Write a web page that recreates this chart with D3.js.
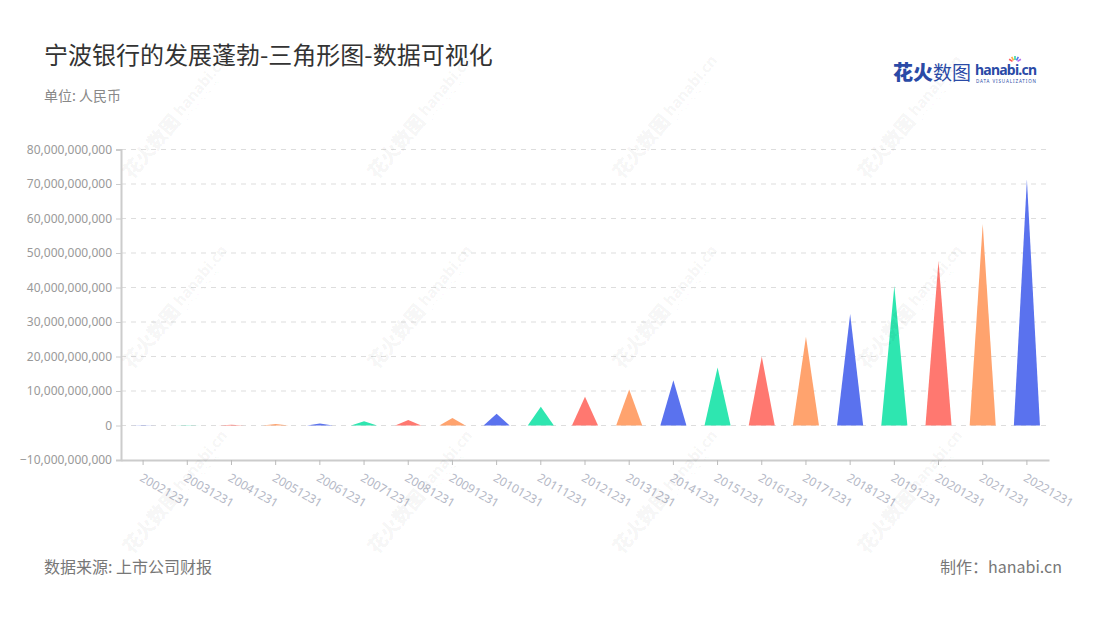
<!DOCTYPE html>
<html><head><meta charset="utf-8">
<script src="https://cdn.jsdelivr.net/npm/d3@7/dist/d3.min.js"></script>
<style>
html,body{margin:0;padding:0;background:#fff;}
svg{display:block;font-family:"Noto Sans CJK SC","Noto Sans",sans-serif;}
</style></head>
<body>
<svg id="chart" width="1100" height="620"></svg>
<script>
const categories = ["20021231","20031231","20041231","20051231","20061231","20071231","20081231","20091231","20101231","20111231","20121231","20131231","20141231","20151231","20161231","20171231","20181231","20191231","20201231","20211231","20221231"];
const values = [0.05e9,0.1e9,0.2e9,0.4e9,0.6e9,1.2e9,1.6e9,2.2e9,3.4e9,5.4e9,8.3e9,10.4e9,13.1e9,16.8e9,20.0e9,25.7e9,32.3e9,40.4e9,47.7e9,58.4e9,71.3e9];
const yTicks = [-10e9,0,10e9,20e9,30e9,40e9,50e9,60e9,70e9,80e9];
const palette = ["#5a72ee","#2ee6b0","#ff7870","#ffa36e"];

(function(){
const svg = d3.select("#chart");
const pLeft = 121, pRight = 1049, pTop = 149.5, pBottom = 460;

const x = d3.scaleBand().domain(categories).range([pLeft, pRight]).padding(0);
const y = d3.scaleLinear().domain([-10e9, 80e9]).range([pBottom, pTop]);

// titles
svg.append("text").attr("x",44).attr("y",64).attr("font-size",24).attr("fill","#333").text("宁波银行的发展蓬勃-三角形图-数据可视化");
svg.append("text").attr("x",44).attr("y",101).attr("font-size",14).attr("fill","#888").text("单位: 人民币");

// grid
svg.append("g").selectAll("line").data(yTicks.filter(d=>d>-10e9)).join("line")
  .attr("x1",pLeft).attr("x2",pRight).attr("y1",d=>y(d)).attr("y2",d=>y(d))
  .attr("stroke","#ddd").attr("stroke-dasharray","5,5").attr("stroke-width",1);

// y axis
const yAxis = svg.append("g").attr("transform",`translate(${pLeft},0)`)
  .call(d3.axisLeft(y).tickValues(yTicks).tickSize(5).tickPadding(4).tickFormat(d3.format(",")));
yAxis.select(".domain").attr("stroke","#ccc").attr("stroke-width",2);
yAxis.selectAll(".tick line").attr("stroke","#ccc");
yAxis.selectAll("text").attr("fill","#999").attr("font-size",12).attr("font-family","'Noto Sans',sans-serif");

// x axis
const xAxis = svg.append("g").attr("transform",`translate(0,${pBottom})`)
  .call(d3.axisBottom(x).tickSize(5).tickSizeOuter(0).tickPadding(8));
xAxis.select(".domain").attr("stroke","#ccc").attr("stroke-width",2);
xAxis.selectAll(".tick line").attr("stroke","#bbb");
xAxis.selectAll(".tick text").attr("fill","#b4b8c6").attr("font-size",12)
  .attr("font-family","'Noto Sans',sans-serif")
  .attr("text-anchor","start").attr("dy","0.7em")
  .attr("transform","translate(0,13) rotate(30)").attr("y",0).attr("x",0);

// triangles
const w = x.bandwidth()*0.59;
svg.append("g").selectAll("path").data(categories).join("path")
  .attr("d",(c,i)=>{
    const cx = x(c)+x.bandwidth()/2, y0=y(0), y1=y(values[i]);
    return `M${cx-w/2},${y0}L${cx},${y1}L${cx+w/2},${y0}Z`;
  })
  .attr("fill",(c,i)=>palette[i%4]);

// footer
svg.append("text").attr("x",44).attr("y",573).attr("font-size",16).attr("fill","#777").text("数据来源: 上市公司财报");
svg.append("text").attr("x",1062).attr("y",573).attr("font-size",16).attr("fill","#777").attr("text-anchor","end").text("制作：hanabi.cn");

// logo
const logo = svg.append("g");
logo.append("text").attr("x",893).attr("y",80).attr("font-size",20).attr("font-weight",900).attr("fill","#2a4aa6").text("花火");
logo.append("text").attr("x",933).attr("y",80).attr("font-size",19).attr("font-weight",400).attr("fill","#2a4aa6").text("数图");
logo.append("text").attr("x",975).attr("y",75).attr("font-size",14).attr("font-weight",700).attr("fill","#2a4aa6").attr("font-family","'Noto Sans',sans-serif").attr("textLength",62).text("hanabi.cn");
logo.append("text").attr("x",976).attr("y",82.5).attr("font-size",4.5).attr("fill","#2a4aa6").attr("textLength",60).attr("font-family","'Noto Sans',sans-serif").text("DATA VISUALIZATION");
const burst = ["#ff5a5a","#ffb13d","#3dd6a0","#4a7cf0","#b36cf0"];
burst.forEach((c,i)=>{
  const a = -Math.PI/2 + (i-2)*0.5;
  logo.append("line").attr("x1",1015+Math.cos(a)*3).attr("y1",63+Math.sin(a)*3)
    .attr("x2",1015+Math.cos(a)*7).attr("y2",63+Math.sin(a)*7).attr("stroke",c).attr("stroke-width",1.6);
});

// watermarks
const wmX = [132,377,622,867], wmY = [180,370,555];
const wm = svg.append("g").attr("pointer-events","none").attr("fill","#000").attr("fill-opacity",0.055);
wmY.forEach(yy=>wmX.forEach(xx=>{
  const g = wm.append("g").attr("transform",`translate(${xx},${yy}) rotate(-50)`);
  g.append("text").attr("font-size",19).attr("font-weight",900).text("花火数图");
  g.append("text").attr("x",80).attr("y",-3).attr("font-size",15).attr("font-weight",700).attr("font-family","'Noto Sans',sans-serif").text("hanabi.cn");
  g.append("text").attr("x",81).attr("y",4).attr("font-size",5).attr("font-family","'Noto Sans',sans-serif").text("DATA VISUALIZATION");
}));
})();
</script>
</body></html>
